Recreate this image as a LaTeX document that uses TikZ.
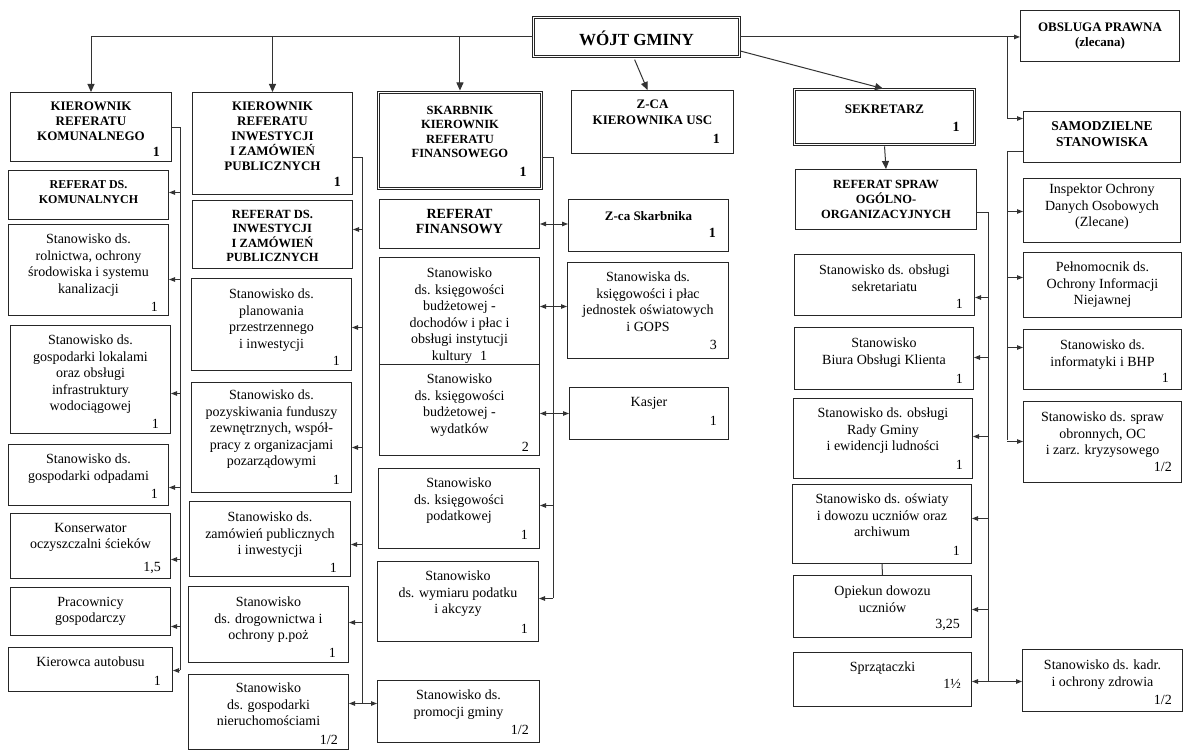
\documentclass[tikz,border=0pt]{standalone}
\usepackage{fontspec}
\setmainfont{Liberation Serif}
\usetikzlibrary{arrows.meta,calc}

\tikzset{
 ln/.style={draw=black!80, line width=1pt},
 box/.style={draw=black!85, line width=1pt, inner sep=0pt},
 dbox/.style={draw=black!85, double, double distance=1.6pt, line width=0.9pt, inner sep=0pt},
 txt/.style={align=center, inner sep=0pt, font=\fontsize{14}{16.5}\selectfont},
 hdr/.style={align=center, inner sep=0pt, font=\bfseries\fontsize{13}{15}\selectfont},
 num/.style={inner sep=0pt, font=\fontsize{14}{16}\selectfont},
 bnum/.style={inner sep=0pt, font=\bfseries\fontsize{14}{16}\selectfont},
 barr/.style={ln, -{Triangle[length=8pt,width=7pt]}},
 sarr/.style={ln, -{Triangle[length=6pt,width=4.5pt]}},
 darr/.style={ln, {Triangle[length=6pt,width=4.5pt]}-{Triangle[length=6pt,width=4.5pt]}},
}

% boxstyle, textstyle, name, x1, y1, x2, y2, text top offset, text
\newcommand\mkbox[9]{%
  \node[#1, minimum width={#6-#4}, minimum height={#7-#5}, anchor=north west] (#3) at (#4,#5) {};
  \node[#2, anchor=north] (#3-t) at ([yshift=-#8pt]#3.north) {#9};
}
% style, name, number, dx, dy
\newcommand\mknum[5]{%
  \node[#1, anchor=base east] (#2-n) at ([xshift=-#4pt,yshift=#5pt]#2.south east) {#3};
}
% style, node, anchor, dy, bus
\newcommand\mkarr[5]{%
  \coordinate (#2-a) at ([yshift=#4pt]#2.#3);
  \draw[#1] (#2-a -| #5) -- (#2-a);
}

\begin{document}
\begin{tikzpicture}[x=1pt,y=-1pt]
\fill[white] (0,0) rectangle (1184,752);
\useasboundingbox (0,0) rectangle (1184,752);

% ---- top ----
\node[dbox, minimum width=206, minimum height=39, anchor=north west] (wojt) at (533,17) {};
\node[font=\bfseries\fontsize{17}{20}\selectfont, inner sep=0pt] (wojt-t) at ([yshift=-1pt]wojt.center) {WÓJT GMINY};

% ---- column 1 ----
\mkbox{box}{hdr}{kom}{10}{92}{171}{161}{10}{KIEROWNIK\\REFERATU\\KOMUNALNEGO}
\mknum{bnum}{kom}{1}{12}{6}
\mkbox{box}{hdr,font=\bfseries\fontsize{12}{15}\selectfont}{refkom}{8}{170}{168}{219}{10}{REFERAT DS.\\KOMUNALNYCH}
\mkbox{box}{txt}{rol}{8}{224}{168}{315}{10}{Stanowisko ds.\\rolnictwa, ochrony\\środowiska i systemu\\kanalizacji}
\mknum{num}{rol}{1}{11}{5}
\mkbox{box}{txt}{lok}{10}{325}{170}{433}{10}{Stanowisko ds.\\gospodarki lokalami\\oraz obsługi\\infrastruktury\\wodociągowej}
\mknum{num}{lok}{1}{12}{6}
\mkbox{box}{txt}{odp}{8}{444}{168}{505}{10}{Stanowisko ds.\\gospodarki odpadami}
\mknum{num}{odp}{1}{11}{8}
\mkbox{box}{txt}{kons}{10}{513}{170}{578}{10}{Konserwator\\oczyszczalni ścieków}
\mknum{num}{kons}{1,5}{10}{8}
\mkbox{box}{txt}{prac}{10}{587}{170}{635}{10}{Pracownicy\\gospodarczy}
\mkbox{box}{txt}{kier}{8}{647}{172}{691}{10}{Kierowca autobusu}
\mknum{num}{kier}{1}{12}{7}

% ---- column 2 ----
\mkbox{box}{hdr}{kinw}{192}{92}{352}{194}{10}{KIEROWNIK\\REFERATU\\INWESTYCJI\\I ZAMÓWIEŃ\\PUBLICZNYCH}
\mknum{bnum}{kinw}{1}{12}{9}
\mkbox{box}{hdr,font=\bfseries\fontsize{12.5}{14.5}\selectfont}{refinw}{192}{200}{352}{268}{10}{REFERAT DS.\\INWESTYCJI\\I ZAMÓWIEŃ\\PUBLICZNYCH}
\mkbox{box}{txt}{plan}{191}{278}{351}{370}{11}{Stanowisko ds.\\planowania\\przestrzennego\\i inwestycji}
\mknum{num}{plan}{1}{12}{6}
\mkbox{box}{txt}{pozysk}{191}{382}{351}{492}{8}{Stanowisko ds.\\pozyskiwania funduszy\\zewnętrznych, współ-\\pracy z organizacjami\\pozarządowymi}
\mknum{num}{pozysk}{1}{12}{9}
\mkbox{box}{txt}{zam}{189}{501}{350}{576}{11}{Stanowisko ds.\\zamówień publicznych\\i inwestycji}
\mknum{num}{zam}{1}{14}{5}
\mkbox{box}{txt}{drog}{188}{586}{348}{662}{11}{Stanowisko\\ds. drogownictwa i\\ochrony p.poż}
\mknum{num}{drog}{1}{13}{6}
\mkbox{box}{txt}{nier}{188}{674}{348}{749}{9}{Stanowisko\\ds. gospodarki\\nieruchomościami}
\mknum{num}{nier}{1/2}{11}{6}

% ---- column 3 ----
\mkbox{dbox}{hdr,font=\bfseries\fontsize{12.5}{14.5}\selectfont}{skarb}{378}{92}{541}{188}{14}{SKARBNIK\\KIEROWNIK\\REFERATU\\FINANSOWEGO}
\mknum{bnum}{skarb}{1}{15}{12}
\mkbox{box}{hdr,font=\bfseries\fontsize{14}{15}\selectfont}{reffin}{379}{199}{539}{248}{10}{REFERAT\\FINANSOWY}
\mkbox{box}{txt}{ks1}{379}{257}{539}{364}{11}{Stanowisko\\ds. księgowości\\budżetowej -\\dochodów i płac i\\obsługi instytucji\\kultury\hspace{8pt}1}
\mkbox{box}{txt}{ks2}{379}{364}{539}{455}{10}{Stanowisko\\ds. księgowości\\budżetowej -\\wydatków}
\mknum{num}{ks2}{2}{11}{5}
\mkbox{box}{txt}{podat}{378}{468}{539}{548}{10}{Stanowisko\\ds. księgowości\\podatkowej}
\mknum{num}{podat}{1}{12}{10}
\mkbox{box}{txt}{wym}{377}{561}{538}{641}{10}{Stanowisko\\ds. wymiaru podatku\\i akcyzy}
\mknum{num}{wym}{1}{11}{9}
\mkbox{box}{txt}{prom}{377}{680}{539}{742}{10}{Stanowisko ds.\\promocji gminy}
\mknum{num}{prom}{1/2}{11}{9}

% ---- column 4 ----
\mkbox{box}{hdr,font=\bfseries\fontsize{13}{16}\selectfont}{zca}{571}{90}{733}{153}{10}{Z-CA\\KIEROWNIKA USC}
\mknum{bnum}{zca}{1}{14}{11}
\mkbox{box}{hdr}{zcask}{568}{199}{728}{251}{12}{Z-ca Skarbnika}
\mknum{bnum}{zcask}{1}{13}{15}
\mkbox{box}{txt}{ksplac}{567}{262}{728}{358}{10}{Stanowiska ds.\\księgowości i płac\\jednostek oświatowych\\i GOPS}
\mknum{num}{ksplac}{3}{12}{10}
\mkbox{box}{txt}{kasjer}{569}{387}{728}{439}{10}{Kasjer}
\mknum{num}{kasjer}{1}{12}{15}

% ---- column 5 ----
\mkbox{dbox}{hdr}{sek}{794}{89}{974}{144}{16}{SEKRETARZ}
\mknum{bnum}{sek}{1}{15}{13}
\mkbox{box}{hdr,font=\bfseries\fontsize{12.5}{15}\selectfont}{refsp}{795}{169}{976}{229}{11}{REFERAT SPRAW\\OGÓLNO-\\ORGANIZACYJNYCH}
\mkbox{box}{txt}{sekr}{794}{254}{974}{315}{11}{Stanowisko ds. obsługi\\sekretariatu}
\mknum{num}{sekr}{1}{12}{8}
\mkbox{box}{txt}{bok}{794}{327}{973}{389}{11}{Stanowisko\\Biura Obsługi Klienta}
\mknum{num}{bok}{1}{11}{7}
\mkbox{box}{txt}{rady}{793}{398}{972}{478}{10}{Stanowisko ds. obsługi\\Rady Gminy\\i ewidencji ludności}
\mknum{num}{rady}{1}{10}{10}
\mkbox{box}{txt}{osw}{792}{484}{971}{563}{10}{Stanowisko ds. oświaty\\i dowozu uczniów oraz\\archiwum}
\mknum{num}{osw}{1}{12}{9}
\mkbox{box}{txt}{opiek}{793}{575}{971}{637}{11}{Opiekun dowozu\\uczniów}
\mknum{num}{opiek}{3,25}{12}{10}
\mkbox{box}{txt}{sprz}{793}{652}{971}{706}{10}{Sprzątaczki}
\mknum{num}{sprz}{1½}{11}{19}

% ---- column 6 ----
\mkbox{box}{hdr,font=\bfseries\fontsize{13}{14.5}\selectfont}{obs}{1020}{10}{1179}{61}{13}{OBSLUGA PRAWNA\\(zlecana)}
\mkbox{box}{hdr,font=\bfseries\fontsize{13.5}{16}\selectfont}{samo}{1023}{111}{1180}{162}{10}{SAMODZIELNE\\STANOWISKA}
\mkbox{box}{txt}{iod}{1023}{178}{1180}{242}{6}{Inspektor Ochrony\\Danych Osobowych\\(Zlecane)}
\mkbox{box}{txt}{peln}{1023}{252}{1181}{317}{10}{Pełnomocnik ds.\\Ochrony Informacji\\Niejawnej}
\mkbox{box}{txt}{inf}{1023}{329}{1181}{389}{11}{Stanowisko ds.\\informatyki i BHP}
\mknum{num}{inf}{1}{13}{8}
\mkbox{box}{txt}{obr}{1023}{401}{1181}{482}{11}{Stanowisko ds. spraw\\obronnych, OC\\i zarz. kryzysowego}
\mknum{num}{obr}{1/2}{10}{12}
\mkbox{box}{txt}{kadr}{1022}{649}{1182}{711}{11}{Stanowisko ds. kadr.\\i ochrony zdrowia}
\mknum{num}{kadr}{1/2}{11}{8}

% ---- bus ends ----
\coordinate (b1) at (180,670);
\coordinate (b2) at (362,703);
\coordinate (b3) at (553,598);
\coordinate (b5) at (988,681);
\coordinate (b6) at (1007,440);

% ---- top connectors ----
\draw[ln] (wojt.west) -- (wojt.west -| kom.north);
\draw[barr] (wojt.west -| kom.north) -- (kom.north);
\draw[barr] (wojt.west -| kinw.north) -- (kinw.north);
\draw[barr, shorten >=1.5pt] (wojt.west -| skarb.north) -- (skarb.north);
\draw[barr, shorten <=3pt] ([xshift=-3pt]wojt.south) -- ([xshift=-5pt]zca.north);
\draw[barr, shorten >=1.5pt] ([yshift=6pt]wojt.south east) -- (sek.north);
\draw[sarr] (wojt.east) -- (wojt.east -| obs.west);
\draw[sarr] (wojt.east -| b6) |- ([yshift=18.5pt]samo.west);

% ---- column 1 connectors ----
\draw[ln] (kom.east) -| (b1);
\mkarr{sarr}{refkom}{east}{2.5}{b1}
\mkarr{sarr}{rol}{east}{-9.5}{b1}
\mkarr{sarr}{lok}{east}{-14}{b1}
\mkarr{sarr}{odp}{east}{-12.5}{b1}
\mkarr{sarr}{kons}{east}{-13.5}{b1}
\mkarr{sarr}{prac}{east}{-15}{b1}
\mkarr{sarr}{kier}{east}{-1}{b1}

% ---- column 2 connectors ----
\draw[ln] ([yshift=-14pt]kinw.east) -| (b2);
\mkarr{sarr}{refinw}{east}{5}{b2}
\mkarr{sarr}{plan}{east}{-3}{b2}
\mkarr{sarr}{pozysk}{east}{-10}{b2}
\mkarr{sarr}{zam}{east}{-5.5}{b2}
\mkarr{sarr}{drog}{east}{2}{b2}
\coordinate (nier-a) at ([yshift=8.5pt]nier.east);
\draw[darr] (nier-a) -- (nier-a -| prom.west);

% ---- column 3 connectors ----
\draw[ln] ([yshift=-17pt]skarb.east) -| (b3);
\draw[darr] (reffin.east) -- (reffin.east -| zcask.west);
\coordinate (ks1-a) at ([yshift=4.5pt]ks1.east);
\draw[darr] (ks1-a) -- (ks1-a -| ksplac.west);
\coordinate (ks2-a) at ([yshift=-3.5pt]ks2.east);
\draw[darr] (ks2-a) -- (ks2-a -| kasjer.west);
\mkarr{sarr}{podat}{east}{3}{b3}
\mkarr{sarr}{wym}{east}{3}{b3}

% ---- column 5 connectors ----
\draw[barr, shorten <=1.5pt] (sek.south) -- (refsp.north);
\draw[ln] ([yshift=-13pt]refsp.east) -| (b5);
\mkarr{sarr}{sekr}{east}{-12.5}{b5}
\mkarr{sarr}{bok}{east}{1}{b5}
\mkarr{sarr}{rady}{east}{2}{b5}
\mkarr{sarr}{osw}{east}{5.5}{b5}
\mkarr{sarr}{opiek}{east}{-3}{b5}
\coordinate (sprz-a) at ([yshift=-2pt]sprz.east);
\draw[darr] (sprz-a) -- (sprz-a -| kadr.west);
\draw[ln] (osw.south) -- (opiek.north);

% ---- column 6 connectors ----
\draw[ln] ([yshift=-14.5pt]samo.west) -| (b6);
\mkarr{sarr}{iod}{west}{-1}{b6}
\mkarr{sarr}{peln}{west}{7.5}{b6}
\mkarr{sarr}{inf}{west}{12}{b6}
\mkarr{sarr}{obr}{west}{0.5}{b6}
\end{tikzpicture}
\end{document}
